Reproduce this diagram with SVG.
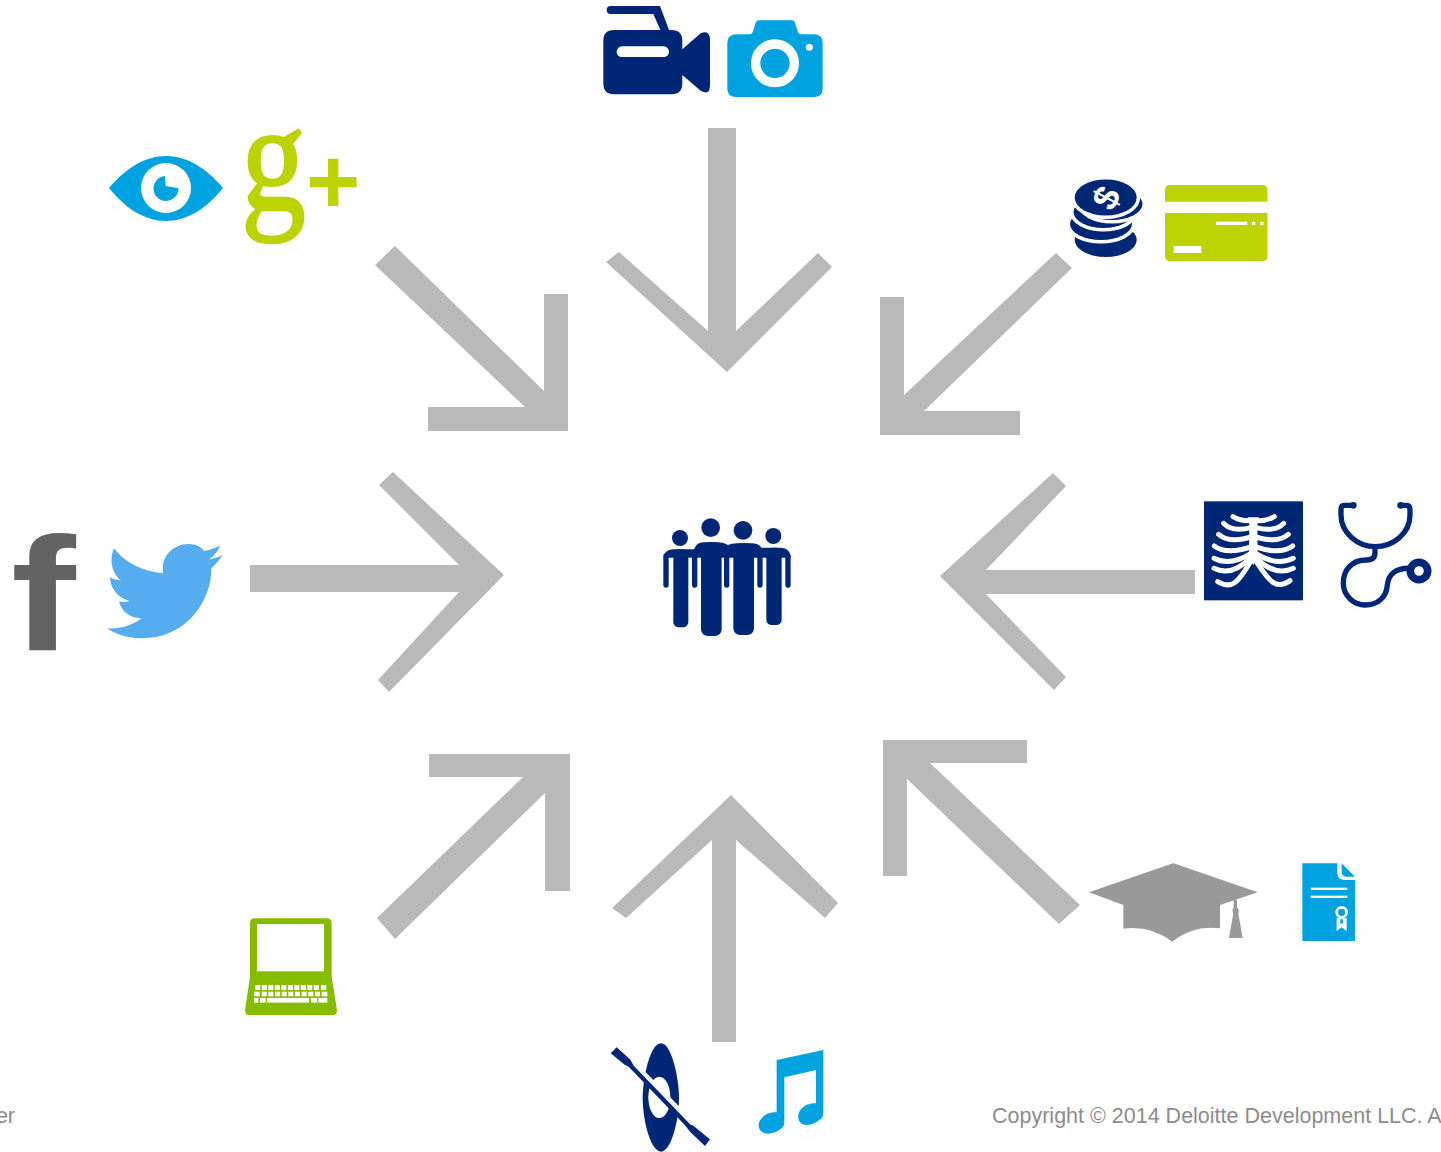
<svg xmlns="http://www.w3.org/2000/svg" width="1441" height="1152" viewBox="0 0 1441 1152">
<style>
.a{fill:#b9b9b9}
.navy{fill:#002776}
.sky{fill:#00a3e0}
.lime{fill:#bdd203}
.w{fill:#fff}
.rib{fill:none;stroke:#fff;stroke-width:15;stroke-linecap:round}
.st{fill:none;stroke:#002776;stroke-width:16;stroke-linecap:round}
.foot{font-family:"Liberation Sans",Arial,sans-serif;font-size:21.5px;fill:#8c8c8c}
</style>
<rect width="1441" height="1152" fill="#fff"/>
<g id="connectors">
<polygon class="a" points="708,128 736,128 736,331 818,253 832,267 727,372 606,262 619,252 708,331"/>
<polygon class="a" points="395,246 544,391 544,294 568,294 568,431 428,431 428,407 525,407 375,265"/>
<polygon class="a" points="1056,253 904,395 904,297 880,297 880,435 1020,435 1020,411 924,411 1072,268"/>
<polygon class="a" points="250,565 459,565 379,485 393,472 504,575 389,692 378,680 459,592 250,592"/>
<polygon class="a" points="1195,570 986,570 1066,486 1053,473 940,576 1054,690 1066,677 986,594 1195,594"/>
<polygon class="a" points="429,754 570,754 570,891 545,891 545,793 395,939 377,918 523,777 429,777"/>
<polygon class="a" points="712,1042 736,1042 736,840 825,918 838,903 731,795 612,908 626,918 712,840"/>
<polygon class="a" points="883,740 1027,740 1027,763 930,763 1080,905 1059,924 907,779 907,876 883,876"/>
</g>
<g id="node-camcorder" class="navy" transform="translate(590,0) scale(.3333)">
<path d="M62,18 H210 L238,92 H212 L190,42 H62 A12,12 0 0 1 62,18Z"/>
<path d="M72,90 H245 Q277,90 277,122 V148 L332,100 Q360,88 360,120 V255 Q360,288 332,272 L277,225 V250 Q277,283 245,283 H72 Q40,283 40,250 V122 Q40,90 72,90Z"/>
<rect class="w" x="80" y="139" width="157" height="32" rx="16"/>
</g>
<g id="node-camera" transform="translate(590,0) scale(.3333)">
<path class="sky" d="M440,103 H480 Q486,103 488,96 L497,68 Q499,61 507,61 H606 Q613,61 615,68 L624,96 Q626,103 633,103 H672 Q698,103 698,129 V266 Q698,291 672,291 H438 Q412,291 412,266 V129 Q412,103 440,103Z"/>
<circle cx="555" cy="190" r="58" fill="none" stroke="#fff" stroke-width="28"/>
<circle class="w" cx="658" cy="142" r="10.500"/>
</g>
<g id="node-eye">
<path class="sky" d="M109,188 C126,168 145,156 166,156 C187,156 206,168 223,188 C206,209 187,221 166,221 C145,221 126,209 109,188Z"/>
<circle class="w" cx="166" cy="188" r="25"/>
<path class="sky" d="M165,176 L165.700,186 L178.500,188.300 A12.500,12.500 0 1 1 165,176Z"/>
</g>
<g id="node-googleplus">
<text transform="translate(241,210) scale(.8,.95)" font-family="Liberation Serif,serif" font-size="162" fill="#bdd203" stroke="#bdd203" stroke-width="2.500">g</text>
<text x="306" y="213" font-family="Liberation Sans,sans-serif" font-weight="700" font-size="93" fill="#bdd203">+</text>
</g>
<g id="node-coins">
<g class="navy" stroke="#fff" stroke-width="7" paint-order="stroke">
<ellipse cx="1105.700" cy="240" rx="31" ry="17"/>
<ellipse cx="1101" cy="224" rx="31" ry="16"/>
<ellipse cx="1103.500" cy="212" rx="30" ry="16"/>
<ellipse cx="1112" cy="204" rx="30.500" ry="16"/>
<ellipse cx="1105.700" cy="197.500" rx="31" ry="18"/>
</g>
<text transform="translate(1105.700,197.500) rotate(-62)" text-anchor="middle" y="13" font-family="Liberation Sans,sans-serif" font-weight="700" font-size="36" fill="#fff">$</text>
</g>
<g id="node-card">
<path class="lime" d="M1170,185 H1262 Q1267.500,185 1267.500,190 V201.700 H1165 V190 Q1165,185 1170,185Z"/>
<path class="lime" d="M1165,213 H1267.500 V256 Q1267.500,261 1262,261 H1170 Q1165,261 1165,256Z"/>
<rect class="w" x="1216" y="221.700" width="31.300" height="3.300"/>
<rect class="w" x="1252" y="221.700" width="3.300" height="3.300"/>
<rect class="w" x="1260" y="221.700" width="3.500" height="3.300"/>
<rect class="w" x="1173.700" y="246" width="27.600" height="7"/>
</g>
<g id="node-xray" transform="translate(1195,490) scale(.3333)">
<rect class="navy" x="27" y="34" width="297" height="297"/>
<path class="w" d="M158,82 H192 L187,100 L188,205 L175,225 L162,205 L163,100Z"/>
<path class="rib" d="M114,80 Q140,95 170,92 M238,80 Q212,95 180,92"/>
<path class="rib" d="M86,100 Q112,128 170,112 M266,100 Q240,128 180,112"/>
<path class="rib" d="M71,133 Q105,162 170,140 M280,133 Q245,162 180,140"/>
<path class="rib" d="M58,168 Q95,196 170,170 M293,168 Q255,196 180,170"/>
<path class="rib" d="M57,205 Q105,230 168,190 M295,205 Q245,230 182,190"/>
<path class="rib" d="M57,235 Q110,262 170,200 M295,235 Q240,262 180,200"/>
<path class="rib" d="M68,275 C110,300 130,280 172,205 M285,272 C245,300 225,280 178,205"/>
</g>
<g id="node-stethoscope" transform="translate(1195,490) scale(.3333)">
<path class="st" d="M470,46 H447 Q438,46 438,60 V75 C438,130 490,170 540,170 C595,170 645,130 645,75 V60 Q645,46 635,46 H622"/>
<path class="st" d="M540,172 V188 Q540,210 515,210 C470,210 445,240 445,280 C445,320 480,345 510,345 C550,345 575,320 577,285 C580,255 600,232 650,235"/>
<circle class="navy" cx="475" cy="46" r="10"/>
<circle class="navy" cx="617" cy="46" r="10"/>
<circle cx="672" cy="243" r="26" fill="#fff" stroke="#002776" stroke-width="23"/>
</g>
<g id="node-facebook">
<text transform="translate(11,650) scale(1.2,1)" font-family="Liberation Sans,sans-serif" font-weight="700" font-size="162" fill="#636363">f</text>
</g>
<g id="node-twitter" transform="scale(.3333) translate(0,1560)">
<path fill="#55acee" d="M342,85 C375,130 430,155 490,160 C480,110 520,72 565,72 C590,72 605,82 612,93 C630,90 648,85 660,77 C655,95 640,110 628,118 C645,115 658,110 668,105 C657,122 645,135 634,145 C636,230 570,355 425,355 C385,355 350,345 320,325 C355,328 395,318 424,295 C390,295 365,275 357,245 C368,247 380,246 388,243 C355,235 330,205 330,172 C340,178 352,181 363,181 C340,165 325,125 342,85Z"/>
</g>
<g id="node-people" class="navy" transform="translate(650,510) scale(.3333)">
<circle cx="90" cy="84" r="24"/>
<circle cx="182" cy="53" r="28"/>
<circle cx="279" cy="61" r="28"/>
<circle cx="370" cy="78" r="24"/>
<path d="M40,150 Q40,118 70,118 H132 Q140,97 160,97 H205 Q222,97 234,105 Q245,100 260,100 H305 Q325,100 335,113 H390 Q422,113 422,145 V143 H40Z"/>
<rect x="40" y="130" width="16" height="103" rx="8"/>
<rect x="126" y="130" width="16" height="103" rx="8"/>
<rect x="222" y="130" width="16" height="103" rx="8"/>
<rect x="322" y="130" width="16" height="103" rx="8"/>
<rect x="406" y="130" width="16" height="103" rx="8"/>
<rect x="70" y="118" width="45" height="234" rx="16"/>
<rect x="153" y="97" width="62" height="281" rx="20"/>
<rect x="250" y="100" width="62" height="275" rx="20"/>
<rect x="349" y="113" width="46" height="232" rx="16"/>
</g>
<g id="node-mortarboard" fill="#999" transform="translate(1080,850) scale(.3333)">
<path d="M27,127 L275,41 Q280,39 285,41 L533,127 L420,165 V235 Q340,225 277,275 Q210,225 130,236 V165Z"/>
<path d="M461,150 H471 V172 Q479,180 475,190 L488,264 H447 L460,190 Q455,180 461,172Z"/>
</g>
<g id="node-diploma" transform="translate(1080,850) scale(.3333)">
<path class="sky" d="M667,40 H772 V68 Q772,90 795,90 H825 V273 H667Z"/>
<path class="sky" d="M785,40 L825,80 H800 Q785,80 785,65Z"/>
<rect class="w" x="692" y="113" width="110" height="7"/>
<rect class="w" x="692" y="137" width="110" height="7"/>
<circle cx="785" cy="187" r="15" fill="none" stroke="#fff" stroke-width="8"/>
<path class="w" d="M770,205 H800 V243 L785,232 L770,243Z"/>
<path class="sky" d="M781,208 H789 V222 L785,219 L781,222Z"/>
</g>
<g id="node-kayak" transform="translate(600,1035) scale(.3333)">
<path class="navy" d="M183,25 C215,25 237,130 237,190 C237,250 215,350 183,350 C150,350 128,250 128,190 C128,130 150,25 183,25Z"/>
<ellipse class="w" cx="178" cy="187" rx="33" ry="62"/>
<path d="M122,109 L257,247" stroke="#fff" stroke-width="18" fill="none"/>
<path d="M85,85 L280,287" stroke="#002776" stroke-width="13" fill="none"/>
<polygon class="navy" points="32,55 50,37 90,73 100,90 92,97 75,90"/>
<polygon class="navy" points="255,270 277,270 330,313 315,333 270,290"/>
</g>
<g id="node-music" transform="translate(600,1035) scale(.3333)">
<path class="sky" d="M530,75 L670,45 V235 C670,255 640,270 620,270 C600,270 593,255 595,240 C598,220 620,203 648,205 V105 L553,127 V265 C553,280 525,296 505,296 C485,296 475,285 476,268 C478,250 500,230 530,232Z"/>
</g>
<g id="node-laptop" transform="translate(235,910) scale(.3333)">
<path fill="#86bc00" d="M60,25 H275 Q290,25 290,40 V200 L306,300 Q306,315 295,315 H42 Q30,315 30,300 L45,200 V40 Q45,25 60,25Z"/>
<rect class="w" x="66" y="42" width="201" height="142"/>
<g class="w">
<rect x="61" y="225" width="15" height="15"/><rect x="80.500" y="225" width="15" height="15"/><rect x="100" y="225" width="15" height="15"/><rect x="119.500" y="225" width="15" height="15"/><rect x="139" y="225" width="15" height="15"/><rect x="158.500" y="225" width="15" height="15"/><rect x="178" y="225" width="15" height="15"/><rect x="197.500" y="225" width="15" height="15"/><rect x="217" y="225" width="15" height="15"/><rect x="236.500" y="225" width="15" height="15"/><rect x="258" y="225" width="16" height="15"/>
<rect x="58" y="245" width="16" height="14"/><rect x="80" y="245" width="15" height="14"/><rect x="100" y="245" width="15" height="14"/><rect x="120" y="245" width="15" height="14"/><rect x="140" y="245" width="15" height="14"/><rect x="160" y="245" width="15" height="14"/><rect x="180" y="245" width="15" height="14"/><rect x="200" y="245" width="15" height="14"/><rect x="220" y="245" width="15" height="14"/><rect x="240" y="245" width="15" height="14"/><rect x="260" y="245" width="17" height="14"/>
<rect x="57" y="264" width="13" height="14"/><rect x="75" y="264" width="17" height="14"/><rect x="96" y="264" width="126" height="14"/><rect x="228" y="264" width="18" height="14"/><rect x="250" y="264" width="27" height="14"/>
</g>
</g>
<text class="foot" x="15" y="1123" text-anchor="end">er</text>
<text class="foot" x="992" y="1123">Copyright © 2014 Deloitte Development LLC. A</text>
</svg>
